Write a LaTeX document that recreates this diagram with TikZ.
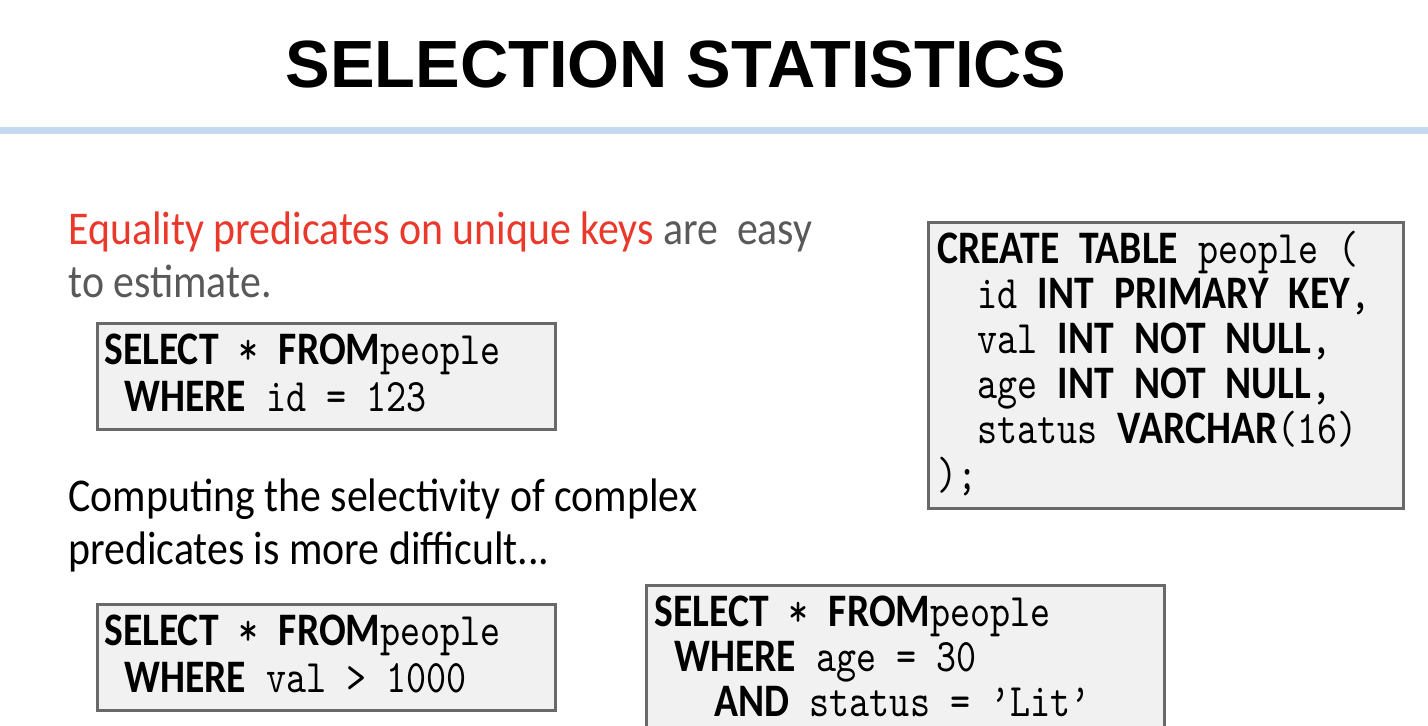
\documentclass[tikz,border=0pt]{standalone}
\usepackage{fontspec}
\setmainfont{Carlito}[FakeStretch=0.89]
\newfontfamily\titlefont{Liberation Sans}
\newfontfamily\kwfont{Carlito}[FakeStretch=0.85]
\newfontfamily\sqlmono{lmmono10-regular.otf}[FakeStretch=0.82]
\usetikzlibrary{positioning}

\definecolor{keyred}{RGB}{234,56,42}
\definecolor{textgrey}{RGB}{89,89,89}
\definecolor{rulebl}{RGB}{197,217,240}
\definecolor{boxfill}{RGB}{241,241,241}
\definecolor{boxline}{RGB}{105,105,105}

\newcommand{\kw}[1]{{\kwfont\bfseries #1}}

\tikzset{
  sqlbox/.style={draw=boxline, line width=1.5pt, fill=boxfill},
  sqlline/.style={anchor=base west, inner sep=0pt, font=\sqlmono\fontsize{23.3}{26}\selectfont},
  bodyline/.style={anchor=base west, inner sep=0pt, font=\fontsize{23.5}{28}\selectfont},
}

\begin{document}
\begin{tikzpicture}[x=0.5pt,y=-0.5pt]
\useasboundingbox (0,0) rectangle (1428,726);

\node[anchor=base, inner sep=0pt, font=\titlefont\bfseries\fontsize{33.4}{40}\selectfont] (title) at (676,88) {SELECTION STATISTICS};
\draw[rulebl, line width=3.5pt] (0,131) -- (1428,131);

\node[bodyline] (eq1) at (68,245) {\textcolor{keyred}{Equality predicates on unique keys} \textcolor{textgrey}{are\ \ easy}};
\node[bodyline, text=textgrey] (eq2) at (68,298) {to estimate.};

\node[bodyline] (cx1) at (68,511) {Computing the selectivity of complex};
\node[bodyline] (cx2) at (68,564) {predicates is more difficult...};

% primary key lookup
\draw[sqlbox] (97,324) rectangle (555,430);
\node[sqlline] (q1a) at (104,365) {\kw{SELECT} * \kw{FROM}people};
\node[sqlline] (q1b) at (104,412) {\ \kw{WHERE} id = 123};

% range predicate
\draw[sqlbox] (97,604) rectangle (555,710);
\node[sqlline] (q2a) at (104,645) {\kw{SELECT} * \kw{FROM}people};
\node[sqlline] (q2b) at (104,692) {\ \kw{WHERE} val > 1000};

% table definition
\draw[sqlbox] (928,223) rectangle (1403,508);
\node[sqlline] (t1) at (937,264) {\kw{CREATE} \kw{TABLE} people (};
\node[sqlline] (t2) at (937,309) {\ \ id \kw{INT} \kw{PRIMARY} \kw{KEY},};
\node[sqlline] (t3) at (937,354) {\ \ val \kw{INT} \kw{NOT} \kw{NULL},};
\node[sqlline] (t4) at (937,399) {\ \ age \kw{INT} \kw{NOT} \kw{NULL},};
\node[sqlline] (t5) at (937,444) {\ \ status \kw{VARCHAR}(16)};
\node[sqlline] (t6) at (937,489) {);};

% conjunction
\draw[sqlbox] (646,585) rectangle (1164,760);
\node[sqlline] (q3a) at (654,626) {\kw{SELECT} * \kw{FROM}people};
\node[sqlline] (q3b) at (654,671) {\ \kw{WHERE} age = 30};
\node[sqlline] (q3c) at (654,716) {\ \ \ \kw{AND} status = ’Lit’};
\end{tikzpicture}
\end{document}
